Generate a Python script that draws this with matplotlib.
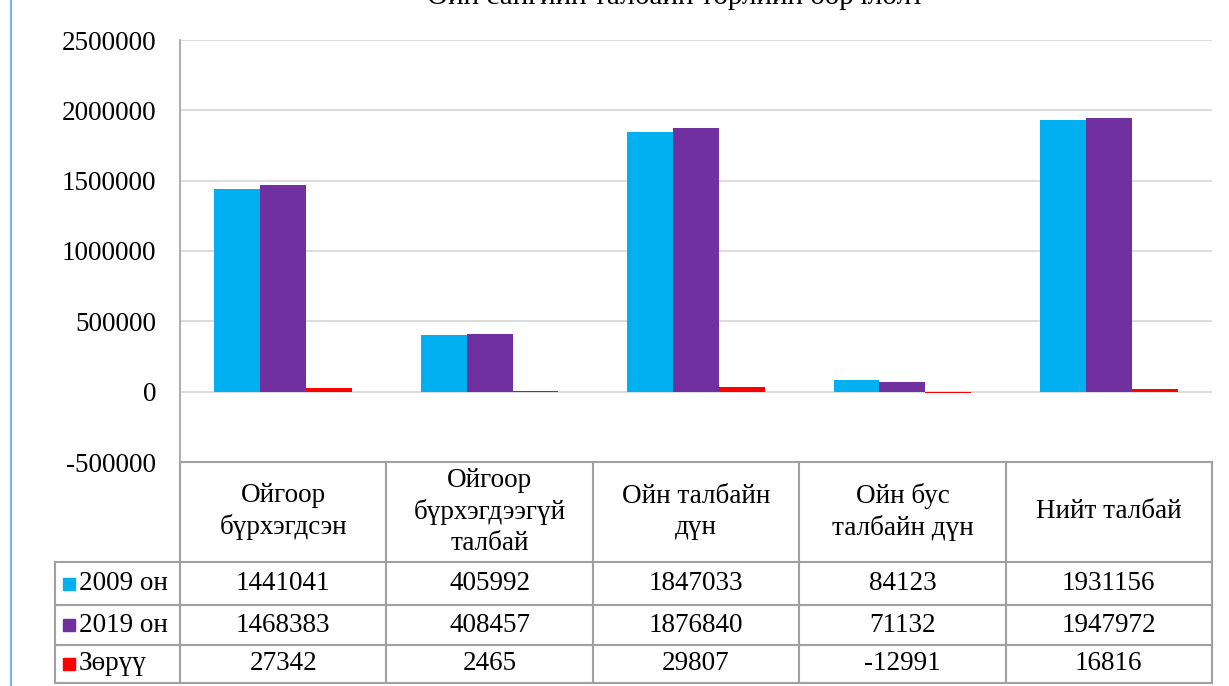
import numpy as np
import matplotlib.pyplot as plt
from matplotlib.lines import Line2D
from matplotlib.patches import Rectangle

plt.rcParams.update({
    'font.family': ['Liberation Serif', 'DejaVu Serif'],
    'font.size': 19.5,
})

TITLE = 'Ойн сангийн талбайн төрлийн өөрчлөлт'
CATEGORIES = ['Ойгоор\nбүрхэгдсэн', 'Ойгоор\nбүрхэгдээгүй\nталбай',
              'Ойн талбайн\nдүн', 'Ойн бус\nталбайн дүн', 'Нийт талбай']
SERIES = ['2009 он', '2019 он', 'Зөрүү']
VALS_2009 = [1441041, 405992, 1847033, 84123, 1931156]
VALS_2019 = [1468383, 408457, 1876840, 71132, 1947972]
VALS_DIFF = [27342, 2465, 29807, -12991, 16816]
COLORS = ['#00B0F0', '#7030A0', '#FF0000']
Y_TICKS = [-500000, 0, 500000, 1000000, 1500000, 2000000, 2500000]

W, H = 1229, 686
fig = plt.figure(figsize=(W / 100, H / 100), dpi=100)
ax = fig.add_axes([180 / W, 1 - 462 / H, 1032 / W, 422 / H])

x = np.arange(len(CATEGORIES))
bw = 0.222
data = [VALS_2009, VALS_2019, VALS_DIFF]
for k, (vals, col) in enumerate(zip(data, COLORS)):
    ax.bar(x + (k - 1) * bw, vals, width=bw, color=col, zorder=3)

ax.set_xlim(-0.5, len(CATEGORIES) - 0.5)
ax.set_ylim(Y_TICKS[0], Y_TICKS[-1])
ax.set_yticks(Y_TICKS)
ax.set_yticklabels([str(v) for v in Y_TICKS])
ax.set_xticks([])
ax.tick_params(axis='y', length=0, pad=17)
ax.grid(axis='y', color='#D9D9D9', linewidth=1.3, zorder=0)
for s in ['top', 'right', 'bottom']:
    ax.spines[s].set_visible(False)
ax.spines['left'].set_color('#A6A6A6')
ax.spines['left'].set_linewidth(1.3)

ax.text(0.48, 1 + 36 / 422, TITLE, transform=ax.transAxes, ha='center',
        va='baseline', fontsize=21)

# data table under the axis
ah = 422.0
aw = 1032.0
y_rows = [0, -100 / ah, -143 / ah, -183 / ah, -221 / ah]
x_left = -125 / aw
lc = '#A0A0A0'
lw = 1.5
tr = ax.transAxes


def hline(y, x0, x1):
    ax.add_line(Line2D([x0, x1], [y, y], transform=tr, color=lc, lw=lw,
                       clip_on=False))


def vline(xx, y0, y1):
    ax.add_line(Line2D([xx, xx], [y0, y1], transform=tr, color=lc, lw=lw,
                       clip_on=False))


hline(0, 0, 1)
for yy in y_rows[1:]:
    hline(yy, x_left, 1)
vline(x_left, y_rows[1], y_rows[-1])
for i in range(len(CATEGORIES) + 1):
    vline(i / len(CATEGORIES), 0, y_rows[-1])

n = len(CATEGORIES)
for i, cat in enumerate(CATEGORIES):
    ax.text((i + 0.5) / n, (y_rows[0] + y_rows[1]) / 2, cat, transform=tr,
            ha='center', va='center', linespacing=1.3)

for r, (name, vals, col) in enumerate(zip(SERIES, data, COLORS)):
    yc = (y_rows[r + 1] + y_rows[r + 2]) / 2
    ax.add_patch(Rectangle((x_left + 8 / aw, yc - 6 / ah), 12 / aw, 12 / ah,
                           transform=tr, color=col, clip_on=False))
    ax.text(x_left + 24 / aw, yc, name, transform=tr, ha='left', va='center')
    for i, v in enumerate(vals):
        ax.text((i + 0.5) / n, yc, str(v), transform=tr, ha='center',
                va='center')

fig.add_artist(Line2D([11 / W, 11 / W], [0, 1], color='#4AAEE0', lw=1.2))

fig.savefig('out.png', dpi=100)
